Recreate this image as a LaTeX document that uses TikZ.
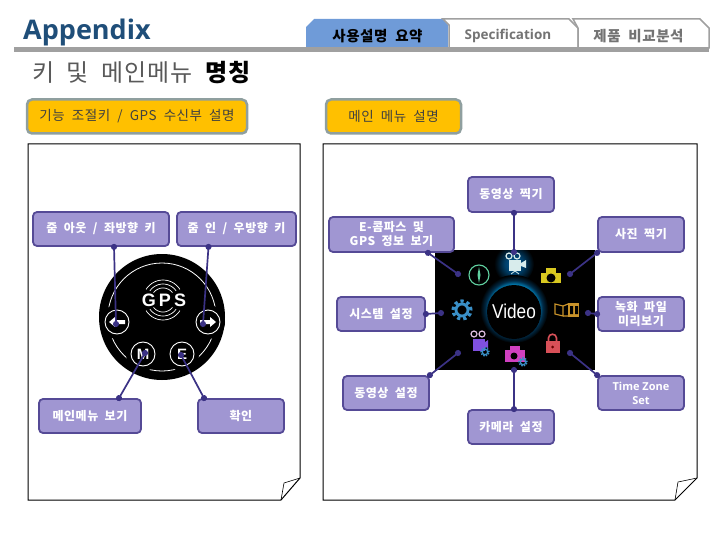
\documentclass[tikz,border=0pt]{standalone}
\usepackage{fontspec}
\usetikzlibrary{arrows.meta,calc}
\setmainfont{Open Sans}
\newfontfamily\kr[LetterSpace=4,WordSpace=2]{Noto Sans CJK KR}
\newfontfamily\gpsfont[LetterSpace=18]{Liberation Sans}
\newfontfamily\vidfont{Liberation Sans}
\definecolor{lblfill}{HTML}{A096D2}
\definecolor{lblline}{HTML}{554A96}
\definecolor{conn}{HTML}{3B3285}
\definecolor{tabgray}{HTML}{A0A0A0}
\definecolor{tabblue}{HTML}{6F9BD8}
\definecolor{amber}{HTML}{FFC000}
\definecolor{amberline}{HTML}{8F9F9F}
\definecolor{titleblue}{HTML}{1F4E79}
\definecolor{gearblue}{HTML}{3A90C8}
\definecolor{camyellow}{HTML}{D8C820}
\definecolor{filmgold}{HTML}{C8922A}
\definecolor{lockred}{HTML}{D85058}
\definecolor{camviolet}{HTML}{D040C0}
\definecolor{vidviolet}{HTML}{8050E0}
\definecolor{compgreen}{HTML}{60D0A0}
\definecolor{vidwhite}{HTML}{D8ECEC}
\pgfdeclareradialshading{vglow}{\pgfpoint{0bp}{0bp}}{color(0bp)=(black);color(15bp)=(black);color(17.6bp)=(cyan!70!blue!75!black);color(21bp)=(cyan!60!blue!28!black);color(25bp)=(black);color(50bp)=(black)}
\pgfdeclareradialshading{cglow}{\pgfpoint{0bp}{0bp}}{color(0bp)=(cyan!60!blue!60!black);color(12bp)=(cyan!60!blue!40!black);color(25bp)=(black);color(50bp)=(black)}
\newcommand{\mygear}[4]{%
  \draw[#4,line width=#3*0.32pt,dash pattern=on #3*0.32pt off #3*0.3pt] (#1,#2) circle[radius=#3*0.9pt];
  \draw[#4,line width=#3*0.28pt] (#1,#2) circle[radius=#3*0.6pt];}
\newcommand{\myreels}[3]{%
  \draw[#3,line width=1.2pt] (#1-5,#2-6) circle[radius=3pt] (#1+3,#2-6) circle[radius=3pt];}
\tikzset{
  lbl/.style={draw=lblline,fill=lblfill,line width=1.8pt,rounded corners=4pt,text=white,align=center,
    font=\kr\bfseries\fontsize{12}{14}\selectfont,inner sep=0pt},
  hdr/.style={draw=amberline,fill=amber,line width=2.5pt,rounded corners=5pt,text=black!75,
    font=\kr\fontsize{13.5}{15}\selectfont,inner sep=0pt,minimum height=34pt},
  link/.style={draw=conn,line width=1.7pt,{Circle[length=6pt]}-{Circle[length=6pt]},shorten <=-3pt,shorten >=-3pt},
  panel/.style={draw=black,line width=1pt,fill=white},
  fold/.style={draw=black,line width=.6pt},
  tabline/.style={draw=tabgray,line width=1.5pt,fill=white},
  btn/.style={circle,draw=white,line width=.9pt,fill=black,minimum size=24pt,inner sep=0pt,text=white,
    font=\vidfont\bfseries\fontsize{15}{15}\selectfont},
}
\begin{document}
\begin{tikzpicture}[x=1pt,y=-1pt]
\useasboundingbox (0,0) rectangle (720,540);
% title
\node[anchor=base west,inner sep=0pt,text=titleblue,font=\bfseries\fontsize{27}{30}\selectfont] (title) at (23,40) {Appendix};
% tabs
\fill[tabblue] (306,48) -- (306,27) -- (314,19) -- (443,19) -- (448,25) -- (448,48) -- cycle;
\draw[tabline] (443,19) -- (449,25) -- (449,48) -- (578,48) -- (578,28) -- (569,19) -- cycle;
\draw[tabline] (573,19) -- (578,28) -- (578,48) -- (709,48) -- (709,28) -- (700,19) -- cycle;
\fill[tabgray] (14,47) rectangle (709,52);
\node[font=\kr\bfseries\fontsize{14.5}{16}\selectfont,text=black] (t1) at (377.5,36) {사용설명 요약};
\node[font=\bfseries\fontsize{13.5}{15}\selectfont,text=black!55] (t2) at (508,36) {Specification};
\node[font=\kr\bfseries\fontsize{14.5}{16}\selectfont,text=black!55] (t3) at (638.5,36) {제품 비교분석};
% heading
\node[anchor=west,inner sep=0pt,font=\kr\fontsize{24}{26}\selectfont,text=black!65] (head) at (32,73) {키 및 메인메뉴 \textcolor{black}{\bfseries 명칭}};
\node[hdr,minimum width=220pt] (h1) at (137,116.5) {기능 조절키 / GPS 수신부 설명};
\node[hdr,minimum width=135pt] (h2) at (393.5,116.5) {메인 메뉴 설명};
% panels
\draw[panel] (28,144) -- (300,144) -- (300,478) -- (281,500) -- (28,500) -- cycle;
\draw[fold] (281,500) -- (284,483) -- (300,478);
\draw[panel] (323,144) -- (697,144) -- (697,478) -- (675,500) -- (323,500) -- cycle;
\draw[fold] (675,500) -- (678,482) -- (697,478);
% GPS device
\fill[black] (162,317) circle[radius=63pt];
\draw[white,line width=.8pt] (162,317) circle[radius=54pt];
\foreach \a/\b in {117/322,208/322,143/354,182/354} \fill[black] (\a,\b) circle[radius=17pt];
\foreach \r/\s in {20/32,16/35,12/38}{
  \draw[white,line width=.7pt] plot[domain=\s:180-\s,samples=15] ({163+\r*cos(\x)},{300-\r*sin(\x)});
  \draw[white,line width=.7pt] plot[domain=\s:180-\s,samples=15] ({163+\r*cos(\x)},{300+\r*sin(\x)});}
\node[font=\gpsfont\bfseries\fontsize{18}{18}\selectfont,text=white,inner sep=0pt,fill=black] (gps) at (164,300) {GPS};
\node[btn] (bl) at (117,322) {};
\node[btn] (br) at (208,322) {};
\node[btn] (bm) at (143,354) {M};
\node[btn] (be) at (182,354) {E};
\fill[white] (109,322) -- (115,317) -- (115,320) -- (125,320) -- (125,324) -- (115,324) -- (115,327) -- cycle;
\fill[white] (216,322) -- (210,317) -- (210,320) -- (200,320) -- (200,324) -- (210,324) -- (210,327) -- cycle;
% left labels
\node[lbl,minimum width=136pt,minimum height=34pt] (zo) at (101,229) {줌 아웃 / 좌방향 키};
\node[lbl,minimum width=119pt,minimum height=34pt] (zi) at (236.5,229) {줌 인 / 우방향 키};
\node[lbl,minimum width=102pt,minimum height=34pt] (mm) at (90,416) {메인메뉴 보기};
\node[lbl,minimum width=86pt,minimum height=34pt] (ok) at (241,416) {확인};
\draw[link] ([xshift=13pt]zo.south) -- ([xshift=-1pt,yshift=-2pt]bl.center);
\draw[link] ([xshift=-28pt]zi.south) -- ([xshift=-5pt,yshift=-2pt]br.center);
\draw[link] ([xshift=29pt]mm.north) -- ([xshift=2pt,yshift=1pt]bm.center);
\draw[link] ([xshift=-37pt]ok.north) -- ([xshift=-1pt,yshift=-1pt]be.center);
% menu screenshot
\fill[black] (435,250) rectangle (595,370);
\begin{scope}
\clip (435,250) rectangle (595,370);
\shade[shading=cglow] (514,264) circle[radius=20pt];
\end{scope}
\shade[shading=vglow] (514,309) circle[radius=34pt];
\fill[black] (514,312) circle[radius=27pt];
\node[text=white,inner sep=0pt,font=\vidfont\fontsize{20}{22}\selectfont,xscale=.86,transform shape] (vid) at (514,311) {Video};
% video icon
\myreels{514}{262}{vidwhite}
\fill[vidwhite] (509,260) rectangle (521,271);
\fill[vidwhite] (521,263) -- (526,260) -- (526,268) -- (521,266) -- cycle;
\draw[vidwhite,line width=.8pt] (515,271) -- (511,274) (515,271) -- (519,274);
% compass
\draw[compgreen,line width=1.1pt] (479,275) circle[radius=10pt];
\fill[compgreen] (479,267) -- (480.5,275) -- (479,283) -- (477.5,275) -- cycle;
% yellow camera
\fill[camyellow] (541,273) rectangle (561,283);
\fill[camyellow] (546,268) rectangle (556,274);
\fill[black] (551,278) circle[radius=4.5pt];
% gear
\mygear{462}{310}{10}{gearblue}
% film book
\draw[filmgold,line width=1.2pt] (555,304) -- (563,306) -- (563,316) -- (555,314) -- cycle;
\draw[filmgold,line width=1.2pt] (563,306) -- (568,304) (563,316) -- (568,316);
\fill[filmgold] (568,303) rectangle (579,317);
\fill[black] (570,306) rectangle (573,314) (575,306) rectangle (578,314);
% lock
\draw[lockred,line width=1.6pt] (548.5,342) -- (548.5,338) .. controls (548.5,333) and (556.5,333) .. (556.5,338) -- (556.5,342);
\fill[lockred] (545.5,341) rectangle (559.5,353);
\fill[black!60!red] (552.5,347) circle[radius=1.5pt];
% purple video
\myreels{479}{340}{white!75!violet}
\fill[vidviolet] (473,339) rectangle (485,351);
\fill[vidviolet] (485,342) -- (488,340) -- (488,348) -- (485,347) -- cycle;
\mygear{485}{352}{4.5}{gearblue}
% magenta camera
\fill[camviolet] (505,350) rectangle (525,362);
\fill[camviolet] (510,346) rectangle (520,351);
\fill[black] (514,356) circle[radius=3.5pt];
\mygear{523}{362}{4.5}{gearblue}
% free ends in the screenshot
\coordinate (pv) at (514,252);
\coordinate (pc) at (458,274);
\coordinate (pp) at (570,274);
\coordinate (ps) at (441,313);
\coordinate (pr) at (588,313);
\coordinate (pvs) at (458,353);
\coordinate (pt) at (570,353);
\coordinate (pk) at (514,370);
% right labels
\node[lbl,minimum width=86pt,minimum height=35pt] (tv) at (511,194.5) {동영상 찍기};
\node[lbl,minimum width=125pt,minimum height=35pt] (ec) at (391.5,234.5) {E-콤파스 및\\GPS 정보 보기};
\node[lbl,minimum width=86pt,minimum height=35pt] (ph) at (641,234.5) {사진 찍기};
\node[lbl,minimum width=88pt,minimum height=34pt] (sy) at (381,314) {시스템 설정};
\node[lbl,minimum width=86pt,minimum height=34pt] (re) at (641,314) {녹화 파일\\미리보기};
\node[lbl,minimum width=86pt,minimum height=34pt] (vs) at (386,393) {동영상 설정};
\node[lbl,minimum width=86pt,minimum height=34pt,font=\bfseries\fontsize{11}{14}\selectfont] (tz) at (641,393) {Time Zone\\Set};
\node[lbl,minimum width=86pt,minimum height=34pt] (ca) at (511,427) {카메라 설정};
\draw[link] ([xshift=3pt]tv.south) -- (pv);
\draw[link] ([xshift=36.5pt]ec.south) -- (pc);
\draw[link] (ph.south west) -- (pp);
\draw[link] (sy.east) -- (ps);
\draw[link] (re.west) -- (pr);
\draw[link] (vs.north east) -- (pvs);
\draw[link] (tz.north west) -- (pt);
\draw[link] ([xshift=3pt]ca.north) -- (pk);
\end{tikzpicture}
\end{document}
